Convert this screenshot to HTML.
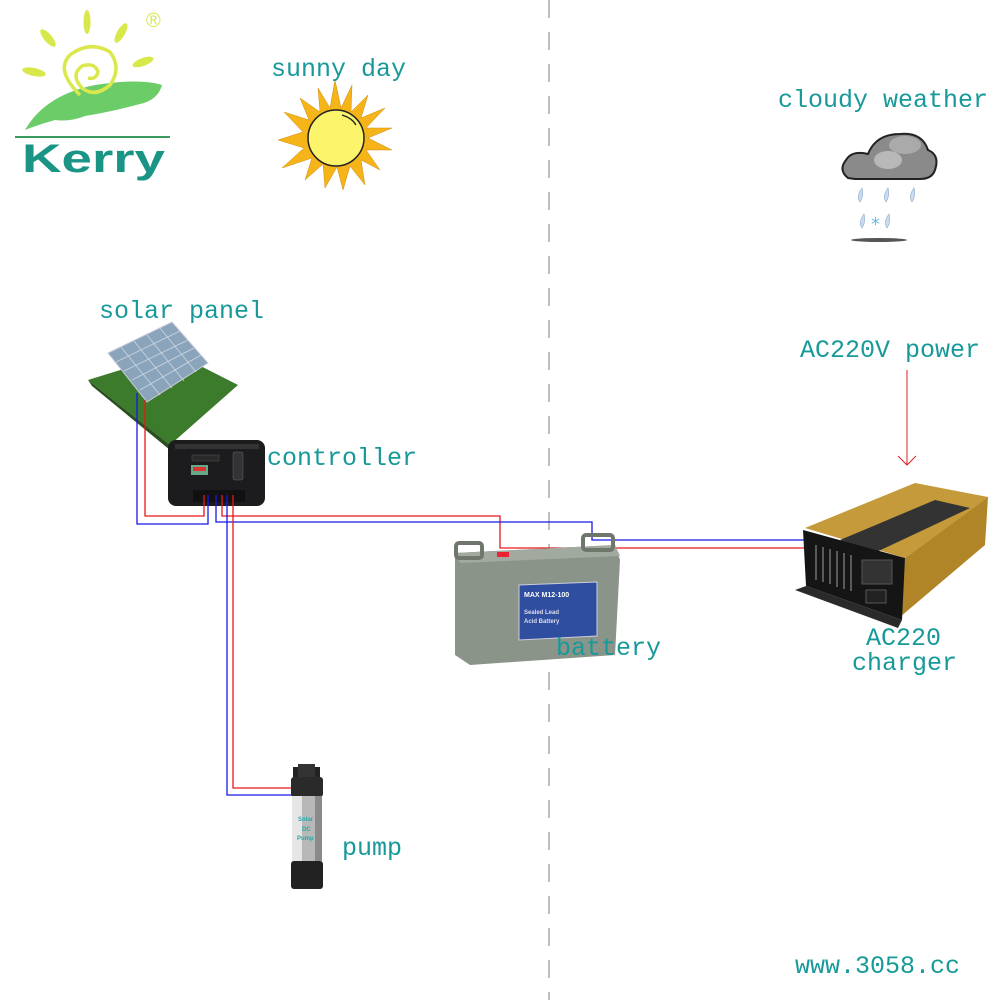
<!DOCTYPE html>
<html><head><meta charset="utf-8"><style>
html,body{margin:0;padding:0;background:#fff}
svg{display:block}
.t{font-family:"Liberation Mono",monospace;font-size:25px;fill:#17999a}
</style></head><body>
<svg width="1000" height="1000" viewBox="0 0 1000 1000" xmlns="http://www.w3.org/2000/svg">
<!-- dashed divider -->
<line x1="549" y1="0" x2="549" y2="1000" stroke="#aaa" stroke-width="1.5" stroke-dasharray="18,14"/>

<!-- Kerry logo -->
<g>
<ellipse cx="34" cy="72" rx="12" ry="4" fill="#d8e84a" transform="rotate(12 34 72)"/>
<ellipse cx="48" cy="38" rx="4" ry="11" fill="#d8e84a" transform="rotate(-40 48 38)"/>
<ellipse cx="87" cy="22" rx="3.5" ry="12" fill="#d8e84a"/>
<ellipse cx="121" cy="33" rx="4" ry="11" fill="#d8e84a" transform="rotate(30 121 33)"/>
<ellipse cx="143" cy="62" rx="11" ry="4" fill="#d8e84a" transform="rotate(-20 143 62)"/>
<path d="M25 130 Q45 95 95 85 Q140 78 162 85 Q158 100 140 104 Q110 112 85 116 Q70 122 55 120 Q40 124 25 130 Z" fill="#6ccc68"/>
<path d="M80 95 Q55 70 70 55 Q90 40 110 52 Q122 68 110 85 Q95 98 82 88 Q70 75 82 66 Q95 62 98 72 Q96 80 88 78" fill="none" stroke="#dbe84c" stroke-width="3.5"/>
<line x1="15" y1="137" x2="170" y2="137" stroke="#3a9a60" stroke-width="2"/>
<text x="22" y="172" font-family="Liberation Sans,sans-serif" font-weight="bold" font-size="40" fill="#1a9585" textLength="143" lengthAdjust="spacingAndGlyphs">Kerry</text>
<text x="146" y="27" font-family="Liberation Sans,sans-serif" font-size="20" fill="#d8e84a">®</text>
</g>

<!-- sun -->
<g>
<polygon fill="#f5b418" stroke="#d08a10" stroke-width="0.5" points="
335,80 341,108 352,85 351,112 368,95 361,118 385,108 366,128 392,128 368,138 392,150 366,150 380,170 361,160 365,185 350,166 343,190 337,167 325,188 323,164 305,180 312,158 282,168 304,148 278,140 303,132 284,112 309,120 300,98 320,112 318,88 330,108"/>
<circle cx="336" cy="138" r="28" fill="#fcf46a" stroke="#222" stroke-width="1.5"/>
<path d="M342 115 Q352 118 356 125" fill="none" stroke="#222" stroke-width="1.3"/>
</g>
<text class="t" x="271" y="76">sunny day</text>

<!-- cloudy -->
<text class="t" x="778" y="107">cloudy weather</text>
<g>
<path d="M848 178 Q838 170 846 160 Q852 150 868 154 Q876 134 900 134 Q922 132 928 150 Q940 155 935 170 Q932 179 920 179 L855 179 Z" fill="#8a8a8a" stroke="#222" stroke-width="2"/>
<ellipse cx="888" cy="160" rx="14" ry="9" fill="#b8b8b8"/>
<ellipse cx="905" cy="145" rx="16" ry="9" fill="#aaa"/>
<g fill="#c8dcef" stroke="#8aa8c8" stroke-width="0.6">
<path d="M860 202 Q856 196 862 188 Q864 196 860 202Z"/>
<path d="M886 202 Q882 196 888 188 Q890 196 886 202Z"/>
<path d="M912 202 Q908 196 914 188 Q916 196 912 202Z"/>
<path d="M862 228 Q858 222 864 214 Q866 222 862 228Z"/>
<path d="M887 228 Q883 222 889 214 Q891 222 887 228Z"/>
</g>
<text x="871" y="230" font-family="DejaVu Sans,sans-serif" font-size="18" fill="#6ab8e8">*</text>
<ellipse cx="879" cy="240" rx="28" ry="2" fill="#555"/>
</g>

<!-- AC220V power + arrow -->
<text class="t" x="800" y="357">AC220V power</text>
<line x1="907" y1="370" x2="907" y2="465" stroke="#e02020" stroke-width="1"/>
<polyline points="898,456 907,465 916,456" fill="none" stroke="#e02020" stroke-width="1"/>

<!-- solar panel -->
<text class="t" x="99" y="318">solar panel</text>
<polygon points="88,380 175,353 238,385 170,445" fill="#3c7a2c"/>
<polygon points="88,380 170,445 170,450 92,386" fill="#2a5020"/>
<polygon points="108,353 172,322 208,363 147,402" fill="#8aa4bc" stroke="#ccd" stroke-width="1"/>
<g stroke="#cfd8e0" stroke-width="0.8">
<line x1="116" y1="362" x2="180" y2="331"/><line x1="124" y1="371" x2="188" y2="340"/><line x1="132" y1="380" x2="194" y2="348"/><line x1="140" y1="390" x2="201" y2="355"/>
<line x1="121" y1="347" x2="160" y2="395"/><line x1="134" y1="341" x2="172" y2="388"/><line x1="147" y1="335" x2="184" y2="381"/><line x1="160" y1="328" x2="196" y2="372"/>
</g>

<!-- controller -->
<rect x="168" y="440" width="97" height="66" rx="8" fill="#1c1c1e"/>
<rect x="175" y="444" width="84" height="5" fill="#333"/>
<rect x="191" y="465" width="17" height="10" fill="#6a8" />
<rect x="193" y="467" width="13" height="4" fill="#d33"/>
<rect x="233" y="452" width="10" height="28" rx="2" fill="#333" stroke="#666" stroke-width="0.5"/>
<rect x="192" y="455" width="27" height="6" fill="#2a2a2a" stroke="#555" stroke-width="0.5"/>
<rect x="193" y="490" width="52" height="12" fill="#111"/>
<text class="t" x="267" y="465">controller</text>

<!-- wires -->
<g fill="none" stroke-width="1.3">
<polyline stroke="#1818e8" points="137,393 137,524 208,524 208,495"/>
<polyline stroke="#e81818" points="145,400 145,516 204,516 204,495"/>
<polyline stroke="#e81818" points="222,495 222,516 500,516 500,548 805,548"/>
<polyline stroke="#1818e8" points="216,495 216,522 592,522 592,540 805,540"/>
<polyline stroke="#1818e8" points="227,495 227,795 292,795"/>
<polyline stroke="#e81818" points="233,495 233,788 292,788"/>
</g>

<!-- battery -->
<polygon points="455,553 615,545 620,560 615,655 470,665 455,655" fill="#8b9488"/>
<polygon points="455,553 615,545 620,556 460,563" fill="#a2aaa0"/>
<rect x="456" y="543" width="26" height="15" rx="3" fill="none" stroke="#6f776c" stroke-width="4"/>
<rect x="583" y="535" width="30" height="15" rx="3" fill="none" stroke="#6f776c" stroke-width="4"/>
<rect x="497" y="552" width="12" height="5" fill="#e23"/>
<polygon points="519,585 597,582 597,636 519,640" fill="#2f4ea0" stroke="#ccd" stroke-width="1"/>
<text x="524" y="597" font-family="Liberation Sans,sans-serif" font-size="7" font-weight="bold" fill="#fff">MAX    M12-100</text>
<text x="524" y="614" font-family="Liberation Sans,sans-serif" font-size="6" font-weight="bold" fill="#dde">Sealed Lead</text>
<text x="524" y="623" font-family="Liberation Sans,sans-serif" font-size="6" font-weight="bold" fill="#dde">Acid Battery</text>
<text class="t" x="556" y="655">battery</text>

<!-- charger -->
<polygon points="805,528 915,483 988,497 905,558" fill="#c49a3a"/>
<polygon points="905,558 988,497 985,545 900,617" fill="#b08528"/>
<polygon points="840,540 935,500 970,508 870,555" fill="#333"/>
<polygon points="803,530 905,558 902,620 806,586" fill="#151515"/>
<polygon points="806,586 902,620 898,628 795,590" fill="#2a2a2a"/>
<g stroke="#5a5a5a" stroke-width="2">
<line x1="816" y1="545" x2="816" y2="580"/><line x1="823" y1="547" x2="823" y2="582"/><line x1="830" y1="549" x2="830" y2="584"/><line x1="837" y1="551" x2="837" y2="587"/><line x1="844" y1="553" x2="844" y2="589"/><line x1="851" y1="555" x2="851" y2="591"/>
</g>
<rect x="862" y="560" width="30" height="24" fill="#333" stroke="#555"/>
<rect x="866" y="590" width="20" height="13" fill="#222" stroke="#555"/>
<text class="t" x="866" y="645">AC220</text>
<text class="t" x="852" y="670">charger</text>

<!-- pump -->
<rect x="293" y="767" width="5" height="12" fill="#222"/>
<rect x="315" y="767" width="5" height="12" fill="#222"/>
<rect x="298" y="764" width="17" height="14" fill="#333"/>
<rect x="291" y="777" width="32" height="20" rx="3" fill="#2a2a2a"/>
<rect x="292" y="796" width="30" height="65" fill="#b8b8b8"/>
<rect x="292" y="796" width="10" height="65" fill="#e6e6e6"/>
<rect x="315" y="796" width="7" height="65" fill="#8a8a8a"/>
<text x="298" y="821" font-family="Liberation Sans,sans-serif" font-size="6" font-weight="bold" fill="#2aa">Solar</text>
<text x="302" y="831" font-family="Liberation Sans,sans-serif" font-size="6" font-weight="bold" fill="#2aa">DC</text>
<text x="297" y="840" font-family="Liberation Sans,sans-serif" font-size="6" font-weight="bold" fill="#2aa">Pump</text>
<rect x="291" y="861" width="32" height="28" rx="3" fill="#222"/>
<text class="t" x="342" y="855">pump</text>

<text class="t" x="795" y="973">www.3058.cc</text>
</svg>
</body></html>
